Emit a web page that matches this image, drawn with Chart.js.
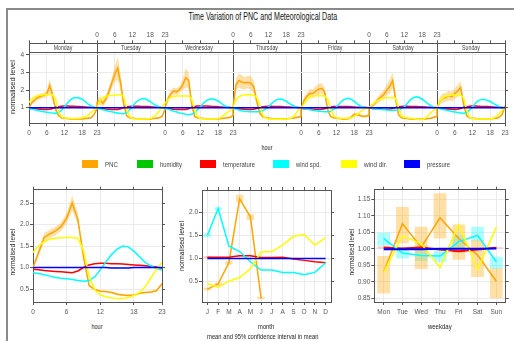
<!DOCTYPE html>
<html><head><meta charset="utf-8">
<script src="https://cdn.jsdelivr.net/npm/chart.js@4.4.1/dist/chart.umd.min.js"></script>
<style>
html,body{margin:0;padding:0;background:#fff;width:514px;height:341px;overflow:hidden;position:relative;}
#frame{position:absolute;left:6px;top:8px;width:520px;height:340px;border-left:2px solid #8a8a8a;border-top:2px solid #8a8a8a;}
canvas{position:absolute;}
.t{position:absolute;white-space:nowrap;font-family:'Liberation Sans',Arial,sans-serif;color:#222;line-height:1;-webkit-font-smoothing:antialiased;}
.box{position:absolute;width:16px;height:8px;}
</style></head><body>
<div id="frame"></div>
<canvas id="cTop" width="514" height="115" style="left:0;top:25px"></canvas>
<canvas id="cHour" width="180" height="140" style="left:0;top:180px"></canvas>
<canvas id="cMonth" width="170" height="140" style="left:170px;top:180px"></canvas>
<canvas id="cWd" width="179" height="140" style="left:335px;top:180px"></canvas>
<script>
// ---------------- data ----------------
const DAY_NAMES = ['Monday','Tuesday','Wednesday','Thursday','Friday','Saturday','Sunday'];
const HOUR_TICKS = [0,6,12,18,23];
const MONTHS = ['J','F','M','A','M','J','J','A','S','O','N','D'];
const WEEKDAYS = ['Mon','Tue','Wed','Thu','Fri','Sat','Sun'];
const SERIES = ['PNC','humidity','temperature','wind spd.','wind dir.','pressure'];

// day-of-week x hour panels (one row per day, 24 hourly values)
const pncWeek = [
 [1.00,1.30,1.45,1.58,1.65,1.70,1.78,2.25,1.70,0.90,0.55,0.42,0.40,0.38,0.36,0.35,0.35,0.35,0.36,0.38,0.40,0.42,0.60,0.95],
 [1.30,1.42,1.25,1.50,1.90,2.40,2.90,3.25,2.40,1.25,0.55,0.42,0.40,0.38,0.37,0.36,0.35,0.35,0.36,0.38,0.40,0.42,0.50,0.90],
 [1.00,1.50,1.80,1.95,1.90,2.05,2.30,2.70,2.55,1.25,0.50,0.42,0.40,0.38,0.36,0.35,0.35,0.35,0.36,0.38,0.40,0.42,0.45,0.55],
 [1.00,2.30,2.55,2.45,2.40,2.45,2.40,2.20,1.40,0.70,0.50,0.42,0.40,0.38,0.36,0.35,0.35,0.35,0.36,0.38,0.40,0.43,0.46,0.50],
 [0.90,1.40,1.65,1.80,1.80,1.95,2.05,2.10,1.90,0.90,0.50,0.42,0.40,0.38,0.36,0.36,0.38,0.45,0.62,0.60,0.55,0.50,0.52,0.55],
 [1.00,1.10,1.25,1.45,1.60,1.75,2.00,2.20,2.55,1.50,0.60,0.42,0.40,0.38,0.36,0.35,0.35,0.35,0.35,0.36,0.38,0.40,0.45,0.50],
 [0.90,1.40,1.55,1.58,1.70,1.62,1.80,1.95,2.15,1.20,0.55,0.42,0.40,0.38,0.36,0.35,0.35,0.35,0.36,0.38,0.40,0.45,0.60,1.10]
];
const pncWeekCI = [
 [0.05,0.12,0.15,0.15,0.15,0.15,0.18,0.40,0.30,0.15,0.06,0.04,0.04,0.04,0.04,0.04,0.04,0.04,0.04,0.04,0.04,0.05,0.08,0.10],
 [0.15,0.25,0.20,0.20,0.25,0.30,0.45,0.65,0.45,0.20,0.06,0.04,0.04,0.04,0.04,0.04,0.04,0.04,0.04,0.04,0.04,0.05,0.08,0.10],
 [0.05,0.15,0.20,0.20,0.20,0.20,0.30,0.55,0.45,0.20,0.06,0.04,0.04,0.04,0.04,0.04,0.04,0.04,0.04,0.04,0.04,0.05,0.06,0.08],
 [0.05,0.35,0.40,0.40,0.35,0.35,0.40,0.35,0.25,0.12,0.06,0.04,0.04,0.04,0.04,0.04,0.04,0.04,0.04,0.04,0.04,0.05,0.06,0.08],
 [0.08,0.20,0.22,0.25,0.25,0.28,0.30,0.30,0.25,0.12,0.06,0.04,0.04,0.04,0.04,0.05,0.08,0.10,0.10,0.08,0.07,0.07,0.08,0.08],
 [0.05,0.10,0.15,0.18,0.22,0.25,0.30,0.40,0.45,0.25,0.06,0.04,0.04,0.04,0.04,0.04,0.04,0.04,0.04,0.04,0.04,0.05,0.06,0.06],
 [0.08,0.22,0.25,0.25,0.28,0.28,0.30,0.35,0.35,0.20,0.06,0.04,0.04,0.04,0.04,0.04,0.04,0.04,0.04,0.04,0.04,0.05,0.08,0.12]
];
const tempWeek = [
 [0.97,0.95,0.93,0.92,0.91,0.90,0.90,0.91,0.95,1.02,1.06,1.08,1.09,1.09,1.08,1.08,1.07,1.06,1.05,1.04,1.03,1.02,1.01,1.00],
 [0.98,0.96,0.94,0.92,0.91,0.90,0.89,0.90,0.94,1.01,1.05,1.07,1.08,1.08,1.08,1.07,1.07,1.06,1.05,1.04,1.03,1.02,1.01,1.00],
 [0.97,0.95,0.93,0.91,0.90,0.89,0.89,0.90,0.94,1.02,1.07,1.09,1.10,1.09,1.09,1.08,1.07,1.06,1.05,1.04,1.03,1.02,1.01,1.00],
 [0.97,0.95,0.93,0.92,0.91,0.90,0.90,0.91,0.95,1.01,1.05,1.07,1.08,1.08,1.07,1.07,1.06,1.05,1.04,1.04,1.03,1.02,1.01,1.00],
 [0.96,0.94,0.93,0.92,0.91,0.90,0.90,0.91,0.94,1.00,1.04,1.06,1.07,1.07,1.07,1.06,1.06,1.05,1.04,1.03,1.03,1.02,1.01,1.00],
 [0.97,0.95,0.94,0.93,0.92,0.91,0.91,0.92,0.95,1.01,1.05,1.07,1.08,1.08,1.07,1.07,1.06,1.05,1.05,1.04,1.03,1.02,1.01,1.00],
 [0.98,0.96,0.94,0.93,0.92,0.91,0.90,0.91,0.95,1.02,1.06,1.08,1.09,1.09,1.08,1.07,1.07,1.06,1.05,1.04,1.03,1.02,1.01,1.00]
];
const wspdWeek = [
 [0.95,0.92,0.88,0.84,0.80,0.77,0.74,0.71,0.69,0.68,0.72,0.85,1.05,1.25,1.45,1.55,1.58,1.55,1.48,1.35,1.20,1.10,1.03,0.98],
 [0.96,0.93,0.88,0.84,0.80,0.77,0.73,0.70,0.67,0.65,0.70,0.88,1.08,1.28,1.42,1.50,1.52,1.45,1.35,1.22,1.12,1.05,1.00,0.97],
 [0.97,0.92,0.86,0.80,0.75,0.70,0.66,0.62,0.60,0.62,0.72,0.90,1.05,1.25,1.40,1.48,1.50,1.45,1.38,1.25,1.12,1.05,1.01,0.99],
 [0.97,0.92,0.87,0.83,0.80,0.78,0.77,0.77,0.77,0.78,0.82,0.92,1.05,1.22,1.38,1.47,1.49,1.45,1.37,1.25,1.15,1.07,1.02,1.00],
 [1.00,0.96,0.92,0.88,0.85,0.82,0.80,0.78,0.77,0.77,0.80,0.90,1.05,1.22,1.40,1.50,1.53,1.48,1.36,1.22,1.10,1.04,1.01,1.00],
 [1.00,0.97,0.94,0.91,0.89,0.88,0.87,0.86,0.86,0.86,0.88,0.95,1.05,1.25,1.45,1.57,1.62,1.58,1.48,1.35,1.22,1.10,1.03,1.00],
 [0.98,0.94,0.90,0.86,0.82,0.78,0.75,0.72,0.70,0.68,0.72,0.85,1.05,1.25,1.40,1.47,1.46,1.42,1.35,1.25,1.15,1.07,1.00,0.95]
];
const wdirWeek = [
 [1.30,1.50,1.62,1.68,1.72,1.74,1.75,1.75,1.72,1.50,0.75,0.48,0.42,0.40,0.38,0.38,0.38,0.40,0.42,0.48,0.58,0.72,0.88,1.00],
 [1.00,1.40,1.58,1.65,1.68,1.70,1.72,1.72,1.72,1.65,1.00,0.50,0.38,0.36,0.35,0.35,0.35,0.36,0.38,0.45,0.60,0.80,1.05,1.25],
 [1.25,1.45,1.58,1.63,1.66,1.67,1.67,1.67,1.66,1.50,0.90,0.50,0.38,0.36,0.35,0.35,0.35,0.36,0.38,0.45,0.58,0.72,0.85,1.00],
 [1.00,1.45,1.62,1.70,1.74,1.75,1.74,1.70,1.60,1.20,0.60,0.40,0.36,0.35,0.34,0.34,0.34,0.34,0.35,0.38,0.45,0.60,0.85,1.00],
 [1.00,1.20,1.45,1.60,1.66,1.68,1.68,1.68,1.66,1.50,0.95,0.55,0.42,0.40,0.40,0.40,0.40,0.42,0.50,0.62,0.75,0.88,0.95,1.00],
 [1.00,1.15,1.30,1.42,1.50,1.54,1.56,1.57,1.57,1.55,1.00,0.50,0.45,0.42,0.40,0.38,0.36,0.33,0.32,0.40,0.55,0.72,0.88,1.00],
 [1.00,1.40,1.58,1.65,1.70,1.72,1.72,1.72,1.70,1.55,0.90,0.45,0.38,0.36,0.35,0.35,0.35,0.35,0.36,0.40,0.50,0.65,0.85,1.00]
];
const presWeek = [
 [1.00,1.00,1.00,1.00,1.00,1.00,1.00,1.00,1.00,1.00,1.00,1.00,0.99,0.99,0.99,0.99,0.99,0.99,0.99,1.00,1.00,1.00,1.00,1.00],
 [1.00,1.00,1.00,1.00,1.00,1.00,1.00,1.00,1.00,1.00,1.00,1.00,0.99,0.99,0.99,0.99,0.99,0.99,1.00,1.00,1.00,1.00,1.00,1.00],
 [1.00,1.00,1.00,1.00,1.00,1.00,1.00,1.00,1.00,1.00,1.00,1.00,0.99,0.99,0.99,0.99,0.99,0.99,0.99,1.00,1.00,1.00,1.00,1.00],
 [1.00,1.00,1.00,1.00,1.00,1.00,1.00,1.00,1.00,1.00,1.00,1.00,1.00,0.99,0.99,0.99,0.99,0.99,1.00,1.00,1.00,1.00,1.00,1.00],
 [1.00,1.00,1.00,1.00,1.00,1.00,1.00,1.00,1.00,1.00,1.00,1.00,0.99,0.99,0.99,0.99,0.99,0.99,1.00,1.00,1.00,1.00,1.00,1.00],
 [1.00,1.00,1.00,1.00,1.00,1.00,1.00,1.00,1.00,1.00,1.00,1.00,1.00,0.99,0.99,0.99,0.99,0.99,0.99,1.00,1.00,1.00,1.00,1.00],
 [1.00,1.00,1.00,1.00,1.00,1.00,1.00,1.00,1.00,1.00,1.00,1.00,0.99,0.99,0.99,0.99,0.99,0.99,1.00,1.00,1.00,1.00,1.00,1.00]
];

// hour panel
const pncHour   = [1.00,1.35,1.70,1.78,1.85,1.95,2.15,2.50,2.12,1.25,0.58,0.49,0.45,0.44,0.42,0.38,0.36,0.35,0.36,0.40,0.42,0.43,0.46,0.62];
const pncHourCI = [0.03,0.08,0.10,0.10,0.10,0.10,0.12,0.18,0.12,0.06,0.03,0.02,0.02,0.02,0.02,0.02,0.02,0.02,0.02,0.02,0.02,0.02,0.03,0.04];
const tempHour  = [0.96,0.95,0.93,0.92,0.91,0.90,0.89,0.88,0.92,1.00,1.06,1.09,1.10,1.10,1.09,1.09,1.08,1.07,1.06,1.05,1.04,1.03,1.01,0.98];
const wspdHour  = [0.88,0.86,0.83,0.80,0.77,0.75,0.74,0.72,0.70,0.68,0.70,0.78,0.95,1.13,1.30,1.43,1.50,1.48,1.38,1.25,1.12,1.04,0.98,0.94];
const wdirHour  = [1.35,1.50,1.60,1.66,1.68,1.69,1.70,1.70,1.68,1.40,0.80,0.48,0.36,0.32,0.29,0.28,0.28,0.30,0.35,0.42,0.55,0.75,0.95,1.12];
const presHour  = [1.00,1.00,1.00,1.00,1.00,1.00,1.00,1.00,1.00,1.00,1.00,1.00,1.00,1.00,0.99,0.99,0.99,0.99,1.00,1.00,1.00,1.00,1.00,1.00];

// month panel
const pncMonth   = [0.34,0.45,0.91,2.29,1.90,0.14,null,null,null,null,null,null];
const pncMonthLo = [0.31,0.41,0.87,2.21,1.83,0.12,null,null,null,null,null,null];
const pncMonthHi = [0.37,0.48,0.95,2.38,1.96,0.17,null,null,null,null,null,null];
const tempMonth  = [1.03,1.03,1.03,1.06,1.06,1.02,1.02,1.03,0.99,0.96,0.93,0.91];
const tempMonthLo= [1.01,null,null,null,null,null,null,null,null,null,null,null];
const tempMonthHi= [1.05,null,null,null,null,null,null,null,null,null,null,null];
const wspdMonth  = [1.50,2.08,1.27,1.15,0.93,0.75,0.75,0.70,0.70,0.65,0.70,0.91];
const wspdMonthLo= [1.46,2.04,null,null,null,null,null,null,null,null,null,null];
const wspdMonthHi= [1.54,2.11,null,null,null,null,null,null,null,null,null,null];
const wdirMonth  = [0.46,0.38,0.51,0.59,0.78,1.14,1.15,1.29,1.48,1.52,1.29,1.45];
const presMonth  = [1.00,1.00,1.00,1.00,1.00,1.00,1.00,1.00,1.00,1.00,1.00,1.00];

// weekday panel
const pncWd    = [0.929,1.076,1.005,1.094,1.031,0.981,0.902];
const pncWdLo  = [0.865,1.017,0.939,1.031,0.967,0.915,0.850];
const pncWdHi  = [0.978,1.127,1.067,1.168,1.074,1.026,0.941];
const tempWd   = [1.004,1.001,1.004,0.998,0.993,0.998,1.003];
const tempWdLo = [1.001,0.999,1.001,0.996,0.990,0.996,1.001];
const tempWdHi = [1.007,1.003,1.007,1.000,0.996,1.000,1.005];
const wspdWd   = [1.031,0.987,0.980,0.978,1.022,1.041,0.961];
const wspdWdLo = [1.009,0.971,0.963,0.961,1.001,1.024,0.940];
const wspdWdHi = [1.049,1.006,0.996,0.994,1.041,1.067,0.976];
const wdirWd   = [0.928,1.040,1.015,0.943,1.073,0.938,1.065];
const presWd   = [0.999,0.999,0.999,1.000,1.000,1.000,1.001];

// ---------------- styles ----------------
const COLORS = ['#FFA500','#00C800','#FF0000','#00FFFF','#FFFF00','#0000FF'];
const BAND = {pnc:'rgba(255,165,0,0.35)', temp:'rgba(255,0,0,0.22)', wspd:'rgba(0,255,255,0.32)'};
const TICK_FONT = "'Liberation Sans Narrow','Liberation Sans',Arial,sans-serif";
const TICK_C = '#555';
const GRID_C = '#ebebeb', AXIS_C = '#555';
Chart.defaults.animation = false;
Chart.defaults.font.family = TICK_FONT;
Chart.defaults.font.size = 6.5;
Chart.defaults.color = TICK_C;

function axis(o){
  const horiz = (o.pos==='top'||o.pos==='bottom');
  const t = {display:o.showLabels!==false, autoSkip:false, maxRotation:0, minRotation:0,
             padding:o.pad==null?2:o.pad, color:TICK_C, font:{family:TICK_FONT,size:6.5}};
  if (o.cb) t.callback = o.cb;
  const a = {
    type:o.type||'linear', position:o.pos,
    afterFit: s => { if (horiz) s.height = o.size; else s.width = o.size; },
    grid:{display:true, drawOnChartArea:!!o.grid, color:o.gridColor||GRID_C, tickColor:AXIS_C,
          tickLength:3, offset:false, lineWidth:1},
    border:{display:true, color:AXIS_C, width:1},
    ticks:t
  };
  if (a.type==='linear'){
    a.min=o.min; a.max=o.max;
    a.afterBuildTicks = s => { s.ticks = o.vals.map(v=>({value:v})); };
  } else {
    a.offset = true;
    if (o.labels) a.labels = o.labels;
  }
  return a;
}
function line(data, color, order, w){
  return {type:'line', data, borderColor:color, backgroundColor:color, borderWidth:w||1.5,
          pointRadius:0, tension:0, fill:false, order, spanGaps:false};
}
function bandLo(data, order){ return {type:'line', data, borderWidth:0, pointRadius:0, fill:false, order}; }
function bandHi(data, color, order){ return {type:'line', data, borderWidth:0, pointRadius:0, fill:'-1', backgroundColor:color, order}; }
function weekPts(rows, ci, sign){
  const pts=[];
  rows.forEach((row,d)=>row.forEach((v,h)=>pts.push({x:d*23+h, y: ci ? v + sign*ci[d][h] : v})));
  return pts;
}
function hourPts(arr, ci, sign){ return arr.map((v,h)=>({x:h, y: ci ? v + sign*ci[h] : v})); }
const baseOpts = {responsive:false, animation:false, devicePixelRatio:1,
  layout:{padding:0}, plugins:{legend:{display:false}, tooltip:{enabled:false}}};

// ---------------- top (day x hour) ----------------
const NDAYS = DAY_NAMES.length;
const XMAX = NDAYS*23;
const weekTicks = [];
for (let d=0; d<NDAYS; d++) for (const h of [0,6,12,18]) weekTicks.push(d*23+h);
weekTicks.push(XMAX);
function weekLabel(v, bottom){
  const k = Math.floor(v/23), h = v - k*23;
  const want = bottom ? 0 : 1;
  if (h===0){
    if (k<NDAYS && k%2===want) return '0';
    if (k-1>=0 && (k-1)%2===want) return '23';
    return '';
  }
  return (k%2===want) ? String(h) : '';
}
const STRIP_VAL = 4.17;
const stripPlugin = {
  id:'strip',
  beforeDatasetsDraw(chart){
    const {ctx, chartArea:a, scales:{x, y}} = chart;
    const yb = y.getPixelForValue(STRIP_VAL);
    ctx.save();
    ctx.fillStyle='#fff';
    ctx.fillRect(a.left, a.top, a.right-a.left, yb-a.top);
    ctx.strokeStyle='#555'; ctx.lineWidth=1;
    ctx.font = "7px 'Liberation Sans',Arial,sans-serif";
    ctx.textAlign='center'; ctx.textBaseline='middle';
    DAY_NAMES.forEach((name,d)=>{
      const x0 = x.getPixelForValue(d*23), x1 = x.getPixelForValue(d*23+23);
      ctx.strokeRect(Math.round(x0)+0.5, Math.round(a.top)+0.5, Math.round(x1-x0), Math.round(yb-a.top));
      ctx.save();
      ctx.translate((x0+x1)/2, (a.top+yb)/2+0.5);
      ctx.scale(0.75,1);
      ctx.fillStyle='#444';
      ctx.fillText(name, 0, 0);
      ctx.restore();
    });
    ctx.restore();
  }
};
new Chart(document.getElementById('cTop'), {
  type:'line',
  data:{datasets:[
    bandLo(weekPts(pncWeek, pncWeekCI, -1), 10),
    bandHi(weekPts(pncWeek, pncWeekCI, 1), BAND.pnc, 9),
    line(weekPts(pncWeek), COLORS[0], 6),
    line(weekPts(tempWeek), COLORS[2], 5),
    line(weekPts(wspdWeek), COLORS[3], 4),
    line(weekPts(wdirWeek), COLORS[4], 3),
    line(weekPts(presWeek), COLORS[5], 2)
  ]},
  options:Object.assign({}, baseOpts, {
    scales:{
      x: axis({pos:'bottom', min:0, max:XMAX, vals:weekTicks, size:16.7, grid:true, pad:3,
               gridColor: c => (c.tick && c.tick.value%23===0) ? '#555' : GRID_C,
               cb: v => weekLabel(v, true)}),
      x2: axis({pos:'top', min:0, max:XMAX, vals:weekTicks, size:18.3, pad:1,
               cb: v => weekLabel(v, false)}),
      y: axis({pos:'left', min:0.11, max:4.665, vals:[1,2,3,4], size:29, grid:true, cb: v => String(v)}),
      y2: axis({pos:'right', min:0.11, max:4.665, vals:[1,2,3,4], size:9, showLabels:false})
    }
  }),
  plugins:[stripPlugin]
});

// ---------------- hour ----------------
new Chart(document.getElementById('cHour'), {
  type:'line',
  data:{datasets:[
    bandLo(hourPts(pncHour, pncHourCI, -1), 10),
    bandHi(hourPts(pncHour, pncHourCI, 1), BAND.pnc, 9),
    line(hourPts(pncHour), COLORS[0], 6),
    line(hourPts(tempHour), COLORS[2], 5),
    line(hourPts(wspdHour), COLORS[3], 4),
    line(hourPts(wdirHour), COLORS[4], 3),
    line(hourPts(presHour), COLORS[5], 2)
  ]},
  options:Object.assign({}, baseOpts, {
    scales:{
      x: axis({pos:'bottom', min:0, max:23, vals:HOUR_TICKS, size:18, grid:true, pad:3, cb: v => String(v)}),
      x2: axis({pos:'top', min:0, max:23, vals:HOUR_TICKS, size:9.7, showLabels:false}),
      y: axis({pos:'left', min:0.198, max:2.81, vals:[0.5,1,1.5,2,2.5], size:33, grid:true, pad:1, cb: v => v.toFixed(1)}),
      y2: axis({pos:'right', min:0.198, max:2.81, vals:[0.5,1,1.5,2,2.5], size:18, showLabels:false})
    }
  })
});

// ---------------- month / weekday ----------------
function box(lo, hi, color){
  return {type:'bar', data: lo.map((l,i)=> l==null ? null : [l, hi[i]]), backgroundColor:color,
          borderWidth:0, grouped:false, barPercentage:0.68, categoryPercentage:1, order:20};
}
new Chart(document.getElementById('cMonth'), {
  type:'bar',
  data:{labels:MONTHS, datasets:[
    box(pncMonthLo, pncMonthHi, BAND.pnc),
    box(wspdMonthLo, wspdMonthHi, BAND.wspd),
    box(tempMonthLo, tempMonthHi, BAND.temp),
    line(pncMonth, COLORS[0], 6),
    line(tempMonth, COLORS[2], 5),
    line(wspdMonth, COLORS[3], 4),
    line(wdirMonth, COLORS[4], 3),
    line(presMonth, COLORS[5], 2)
  ]},
  options:Object.assign({}, baseOpts, {
    scales:{
      x: axis({type:'category', pos:'bottom', size:18, grid:true, pad:3}),
      x2: axis({type:'category', pos:'top', labels:MONTHS, size:10, showLabels:false}),
      y: axis({pos:'left', min:0.061, max:2.48, vals:[0.5,1,1.5,2], size:32, grid:true, pad:1, cb: v => v.toFixed(1)}),
      y2: axis({pos:'right', min:0.061, max:2.48, vals:[0.5,1,1.5,2], size:9, showLabels:false})
    }
  })
});
new Chart(document.getElementById('cWd'), {
  type:'bar',
  data:{labels:WEEKDAYS, datasets:[
    box(pncWdLo, pncWdHi, BAND.pnc),
    box(wspdWdLo, wspdWdHi, BAND.wspd),
    box(tempWdLo, tempWdHi, BAND.temp),
    line(pncWd, COLORS[0], 6),
    line(tempWd, COLORS[2], 5, 2),
    line(wspdWd, COLORS[3], 4),
    line(wdirWd, COLORS[4], 3),
    line(presWd, COLORS[5], 2, 2)
  ]},
  options:Object.assign({}, baseOpts, {
    scales:{
      x: axis({type:'category', pos:'bottom', size:18, grid:true, pad:3}),
      x2: axis({type:'category', pos:'top', labels:WEEKDAYS, size:9.7, showLabels:false}),
      y: axis({pos:'left', min:0.839, max:1.179, vals:[0.85,0.9,0.95,1,1.05,1.1,1.15], size:39.3, grid:true, pad:1, cb: v => v.toFixed(2)}),
      y2: axis({pos:'right', min:0.839, max:1.179, vals:[0.85,0.9,0.95,1,1.05,1.1,1.15], size:8.3, showLabels:false})
    }
  })
});

// ---------------- text & legend ----------------
function txt(s, cx, cy, size, width, opt){
  opt = opt || {};
  const el = document.createElement('div');
  el.className='t'; el.textContent=s; el.style.fontSize=size+'px';
  if (opt.color) el.style.color = opt.color;
  document.body.appendChild(el);
  const w = el.offsetWidth, h = el.offsetHeight;
  const k = width / w;
  if (opt.rot){
    el.style.left=(cx - w/2)+'px'; el.style.top=(cy - h/2)+'px';
    el.style.transform='rotate(-90deg) scaleX('+k+')';
  } else if (opt.left){
    el.style.left=cx+'px'; el.style.top=(cy - h/2)+'px';
    el.style.transformOrigin='0 50%';
    el.style.transform='scaleX('+k+')';
  } else {
    el.style.left=(cx - w/2)+'px'; el.style.top=(cy - h/2)+'px';
    el.style.transform='scaleX('+k+')';
  }
}
txt('Time Variation of PNC and Meteorological Data', 263, 17, 10, 149, {color:'#111'});
txt('hour', 267, 147.5, 8, 11);
txt('normalised level', 12.5, 87, 8, 54, {rot:true});
const legX = [82,137,200,273,341,404];
const legW = [13,22,32,25,23,23];
SERIES.forEach((s,i)=>{
  const b = document.createElement('div');
  b.className='box'; b.style.left=legX[i]+'px'; b.style.top='160px'; b.style.background=COLORS[i];
  document.body.appendChild(b);
  txt(s, legX[i]+23, 164.5, 8, legW[i], {left:true, color:'#444'});
});
txt('hour', 97, 327, 8, 11);
txt('normalised level', 12.5, 252, 8, 47, {rot:true});
txt('month', 266, 327, 8, 16);
txt('mean and 95% confidence interval in mean', 262, 337, 8, 111);
txt('normalised level', 182, 246, 8, 50, {rot:true});
txt('weekday', 440, 327, 8, 24);
txt('normalised level', 351.5, 252, 8, 47, {rot:true});
</script>
</body></html>
